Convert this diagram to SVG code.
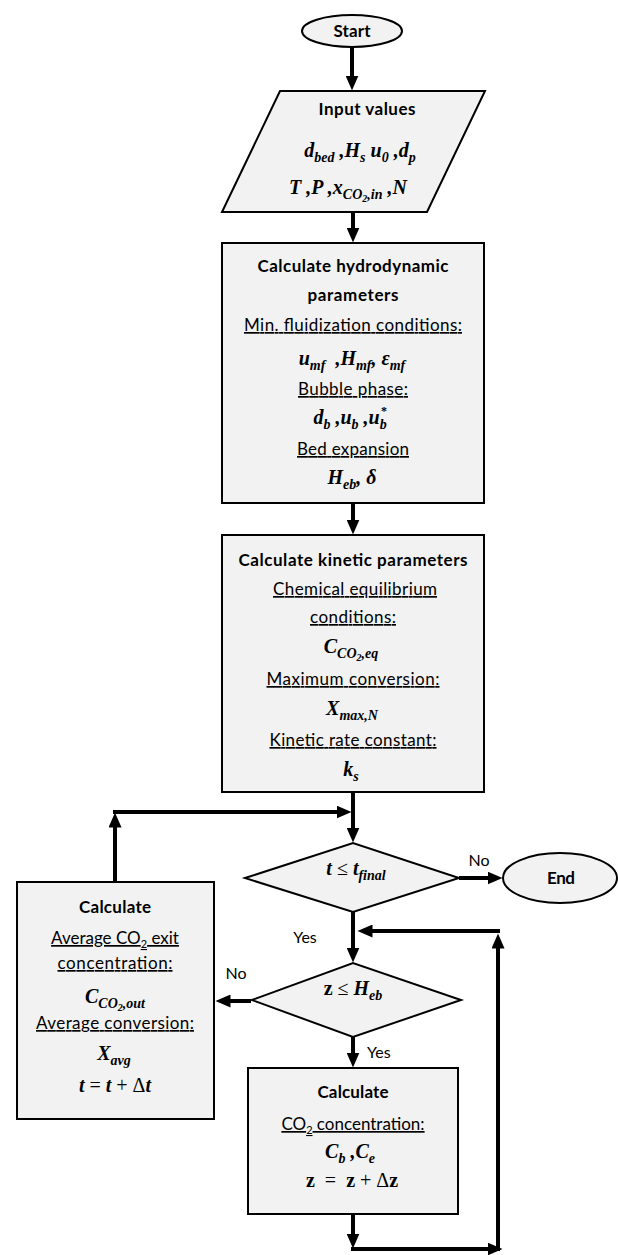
<svg xmlns="http://www.w3.org/2000/svg" width="618" height="1255" viewBox="0 0 618 1255">
<style>
.node{fill:#f2f2f2;stroke:#000;stroke-width:2}
.t{font-family:Lato,"Liberation Sans",sans-serif;font-size:17px;text-anchor:middle;fill:#000}
.b{font-weight:bold}
.u{text-decoration:underline}
.m{font-family:"Liberation Serif","DejaVu Serif",serif;font-size:20px;font-weight:bold;font-style:italic;text-anchor:middle;fill:#000;white-space:pre}
.s{font-size:14px}
.ss{font-size:10px}
.r{font-style:normal;font-weight:normal}
.zb{font-style:normal}
.sub{font-size:11px}
.conn{stroke:#000;stroke-width:4;fill:none}
.lab{font-family:Lato,"Liberation Sans",sans-serif;font-size:16px;fill:#000}
</style>
<defs>
<marker id="ah" markerUnits="userSpaceOnUse" markerWidth="16" markerHeight="13" refX="0.5" refY="6.5" orient="auto">
<path d="M0,0 L15,6.5 L0,13 z" fill="#000"/>
</marker>
</defs>

<g id="connectors">
<line class="conn" x1="352" y1="47" x2="352" y2="76" marker-end="url(#ah)"/>
<line class="conn" x1="353" y1="212" x2="353" y2="228" marker-end="url(#ah)"/>
<line class="conn" x1="353" y1="503" x2="353" y2="520" marker-end="url(#ah)"/>
<line class="conn" x1="353" y1="792" x2="353" y2="828" marker-end="url(#ah)"/>
<line class="conn" x1="115" y1="882" x2="115" y2="827" marker-end="url(#ah)"/>
<line class="conn" x1="113" y1="812" x2="337" y2="812" marker-end="url(#ah)"/>
<line class="conn" x1="459" y1="878" x2="488" y2="878" marker-end="url(#ah)"/>
<line class="conn" x1="353" y1="912" x2="353" y2="948" marker-end="url(#ah)"/>
<line class="conn" x1="251" y1="1001" x2="230" y2="1001" marker-end="url(#ah)"/>
<line class="conn" x1="353" y1="1037" x2="353" y2="1053" marker-end="url(#ah)"/>
<line class="conn" x1="353" y1="1214" x2="353" y2="1234" marker-end="url(#ah)"/>
<line class="conn" x1="351" y1="1249" x2="488" y2="1249" marker-end="url(#ah)"/>
<line class="conn" x1="498" y1="1251" x2="498" y2="948" marker-end="url(#ah)"/>
<line class="conn" x1="500" y1="931" x2="372" y2="931" marker-end="url(#ah)"/>
<text class="lab" x="479" y="866" text-anchor="middle">No</text>
<text class="lab" x="305" y="943" text-anchor="middle">Yes</text>
<text class="lab" x="236" y="979" text-anchor="middle">No</text>
<text class="lab" x="367" y="1058">Yes</text>
</g>

<g id="start">
<ellipse class="node" cx="352" cy="31" rx="50" ry="16"/>
<text class="t b" x="352" y="37" textLength="37">Start</text>
</g>

<g id="input">
<polygon class="node" points="280,91 485,91 427,212 222,212"/>
<text class="t b" x="367" y="115" textLength="97">Input values</text>
<text class="m" x="360" y="157">d<tspan class="s" dy="5">bed</tspan><tspan dy="-5"> ,H</tspan><tspan class="s" dy="5">s</tspan><tspan dy="-5"> u</tspan><tspan class="s" dy="5">0</tspan><tspan dy="-5"> ,d</tspan><tspan class="s" dy="5">p</tspan></text>
<text class="m" x="348" y="194">T ,P ,x<tspan class="s" dy="5">CO</tspan><tspan class="ss" dy="3">2</tspan><tspan class="s" dy="-3">,in</tspan><tspan dy="-5"> ,N</tspan></text>
</g>

<g id="hydro">
<rect class="node" x="222" y="243" width="262" height="260"/>
<text class="t b" x="353" y="272" textLength="191">Calculate hydrodynamic</text>
<text class="t b" x="353" y="301" textLength="91">parameters</text>
<text class="t u" x="353" y="331" textLength="218">Min. fluidization conditions:</text>
<text class="m" x="352" y="365">u<tspan class="s" dy="5">mf</tspan><tspan dy="-5">  ,H</tspan><tspan class="s" dy="5">mf</tspan><tspan dy="-5">, ε</tspan><tspan class="s" dy="5">mf</tspan></text>
<text class="t u" x="353" y="395" textLength="110">Bubble phase:</text>
<text class="m" x="350" y="424">d<tspan class="s" dy="5">b</tspan><tspan dy="-5"> ,u</tspan><tspan class="s" dy="5">b</tspan><tspan dy="-5"> ,u</tspan><tspan class="s" dy="5">b</tspan></text>
<text class="m" x="384" y="415" style="font-size:12px;font-style:normal">*</text>
<text class="t u" x="353" y="455" textLength="112">Bed expansion</text>
<text class="m" x="352" y="484">H<tspan class="s" dy="5">eb</tspan><tspan dy="-5">, δ</tspan></text>
</g>

<g id="kinetic">
<rect class="node" x="222" y="535" width="262" height="257"/>
<text class="t b" x="353" y="566" textLength="229">Calculate kinetic parameters</text>
<text class="t u" x="355" y="595" textLength="164">Chemical equilibrium</text>
<text class="t u" x="353" y="623" textLength="86">conditions:</text>
<text class="m" x="351" y="653">C<tspan class="s" dy="5">CO</tspan><tspan class="ss" dy="3">2</tspan><tspan class="s" dy="-3">,eq</tspan></text>
<text class="t u" x="353" y="685" textLength="173">Maximum conversion:</text>
<text class="m" x="352" y="715">X<tspan class="s" dy="5">max,N</tspan></text>
<text class="t u" x="353" y="746" textLength="167">Kinetic rate constant:</text>
<text class="m" x="351" y="776">k<tspan class="s" dy="5">s</tspan></text>
</g>

<g id="cond-time">
<polygon class="node" points="245,878 353,843 459,878 353,912"/>
<text class="m" x="356" y="875">t <tspan class="r">≤</tspan> t<tspan class="s" dy="5">final</tspan></text>
</g>

<g id="end">
<ellipse class="node" cx="560" cy="878" rx="57" ry="25"/>
<text class="t b" x="561" y="884" textLength="28">End</text>
</g>

<g id="cond-height">
<polygon class="node" points="252,1000 353,963 461,1000 353,1037"/>
<text class="m" x="353" y="995"><tspan class="zb">z</tspan> <tspan class="r">≤</tspan> H<tspan class="s" dy="5">eb</tspan></text>
</g>

<g id="calc-avg">
<rect class="node" x="17" y="882" width="197" height="237"/>
<text class="t b" x="115" y="913" textLength="72">Calculate</text>
<text class="t u" x="115" y="944">Average CO<tspan class="sub" dy="4">2</tspan><tspan dy="-4"> exit</tspan></text>
<text class="t u" x="115" y="969" textLength="115">concentration:</text>
<text class="m" x="115" y="1003">C<tspan class="s" dy="5">CO</tspan><tspan class="ss" dy="3">2</tspan><tspan class="s" dy="-3">,out</tspan></text>
<text class="t u" x="115" y="1029" textLength="158">Average conversion:</text>
<text class="m" x="114" y="1060">X<tspan class="s" dy="5">avg</tspan></text>
<text class="m" x="115" y="1092">t <tspan class="r">=</tspan> t <tspan class="r">+ Δ</tspan>t</text>
</g>

<g id="calc-conc">
<rect class="node" x="248" y="1068" width="210" height="146"/>
<text class="t b" x="353" y="1098" textLength="71">Calculate</text>
<text class="t u" x="353" y="1130">CO<tspan class="sub" dy="4">2</tspan><tspan dy="-4"> concentration:</tspan></text>
<text class="m" x="350" y="1158">C<tspan class="s" dy="5">b</tspan><tspan dy="-5"> ,C</tspan><tspan class="s" dy="5">e</tspan></text>
<text class="m" x="352" y="1187"><tspan class="zb">z</tspan> <tspan class="r"> = </tspan> <tspan class="zb">z</tspan><tspan class="r"> + Δ</tspan><tspan class="zb">z</tspan></text>
</g>
</svg>
